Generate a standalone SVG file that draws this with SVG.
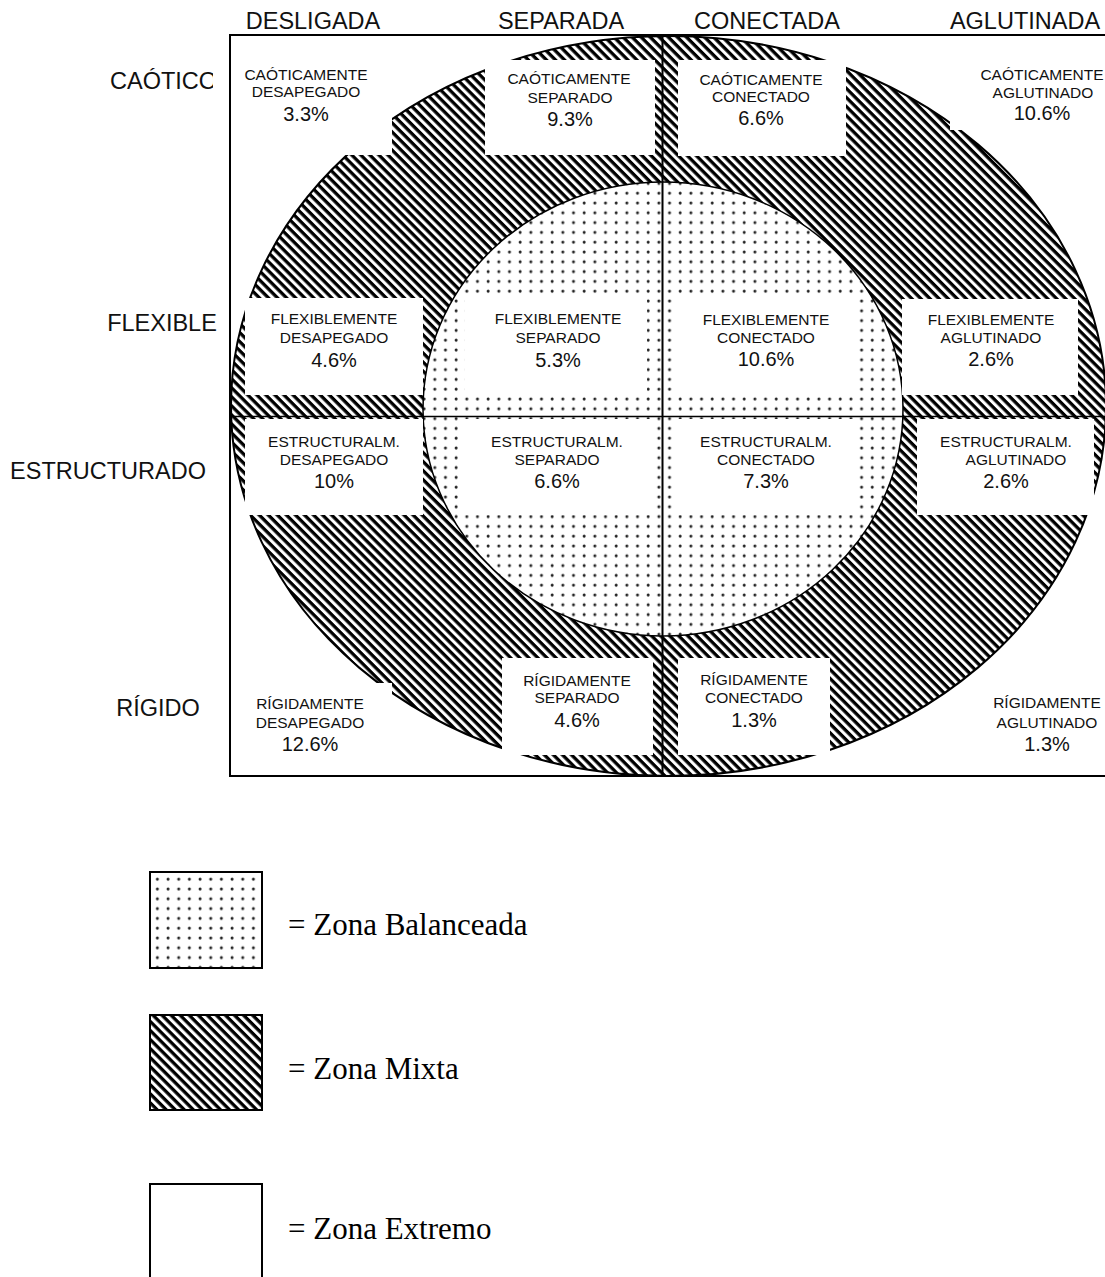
<svg xmlns="http://www.w3.org/2000/svg" width="1105" height="1277" viewBox="0 0 1105 1277">
<style>
.hd{font-family:"Liberation Sans",Arial,sans-serif;font-size:23.5px;fill:#111}
.sm{font-family:"Liberation Sans",Arial,sans-serif;font-size:15.5px;fill:#111;text-anchor:middle}
.pc{font-family:"Liberation Sans",Arial,sans-serif;font-size:20px;fill:#111;text-anchor:middle}
.lg{font-family:"Liberation Serif","Times New Roman",serif;font-size:31px;fill:#000}
.box{fill:#fff;stroke:none}
.ln{stroke:#000;fill:none}
</style>
<defs>
<pattern id="hatch" width="6.4" height="6.4" patternUnits="userSpaceOnUse" patternTransform="rotate(45)">
<rect width="6.4" height="6.4" fill="#fff"/>
<rect width="6.4" height="3.3" fill="#000"/>
</pattern>
<pattern id="dots" width="10.67" height="9.8" patternUnits="userSpaceOnUse" x="3" y="2">
<rect width="10.67" height="9.8" fill="#fff"/>
<circle cx="5" cy="5" r="1.5" fill="#222"/>
</pattern>
</defs>
<rect width="1105" height="1277" fill="#fff"/>

<g id="headers">
<text class="hd" x="313" y="28.5" text-anchor="middle">DESLIGADA</text>
<text class="hd" x="561" y="28.5" text-anchor="middle">SEPARADA</text>
<text class="hd" x="767" y="28.5" text-anchor="middle">CONECTADA</text>
<text class="hd" x="1025" y="28.5" text-anchor="middle">AGLUTINADA</text>
<text class="hd" x="110" y="89">CAÓTICO</text>
<text class="hd" x="162" y="331" text-anchor="middle">FLEXIBLE</text>
<text class="hd" x="108" y="479" text-anchor="middle">ESTRUCTURADO</text>
<text class="hd" x="158" y="716" text-anchor="middle">RÍGIDO</text>
</g>

<g id="zones">
<ellipse cx="668.5" cy="406" rx="437.5" ry="370" fill="url(#hatch)" stroke="#000" stroke-width="2"/>
<ellipse cx="663" cy="409" rx="240" ry="227" fill="url(#dots)" stroke="#000" stroke-width="1.5"/>
</g>

<g id="cell-caotico-desapegado">
<rect class="box" x="213" y="36" width="179" height="119"/>
<text class="sm" x="306" y="80">CAÓTICAMENTE</text>
<text class="sm" x="306" y="97">DESAPEGADO</text>
<text class="pc" x="306" y="121">3.3%</text>
</g>
<g id="cell-caotico-separado">
<rect class="box" x="485" y="60" width="170" height="95"/>
<text class="sm" x="569" y="84">CAÓTICAMENTE</text>
<text class="sm" x="570" y="103">SEPARADO</text>
<text class="pc" x="570" y="126">9.3%</text>
</g>
<g id="cell-caotico-conectado">
<rect class="box" x="678" y="60" width="168" height="96"/>
<text class="sm" x="761" y="85">CAÓTICAMENTE</text>
<text class="sm" x="761" y="102">CONECTADO</text>
<text class="pc" x="761" y="125">6.6%</text>
</g>
<g id="cell-caotico-aglutinado">
<rect class="box" x="950" y="36" width="160" height="94"/>
<text class="sm" x="1042" y="80">CAÓTICAMENTE</text>
<text class="sm" x="1043" y="98">AGLUTINADO</text>
<text class="pc" x="1042" y="120">10.6%</text>
</g>

<g id="cell-flexible-desapegado">
<rect class="box" x="245" y="298" width="178" height="97"/>
<text class="sm" x="334" y="324">FLEXIBLEMENTE</text>
<text class="sm" x="334" y="343">DESAPEGADO</text>
<text class="pc" x="334" y="367">4.6%</text>
</g>
<g id="cell-flexible-separado">
<rect class="box" x="465" y="297" width="182" height="98"/>
<text class="sm" x="558" y="324">FLEXIBLEMENTE</text>
<text class="sm" x="558" y="343">SEPARADO</text>
<text class="pc" x="558" y="367">5.3%</text>
</g>
<g id="cell-flexible-conectado">
<rect class="box" x="677" y="297" width="180" height="98"/>
<text class="sm" x="766" y="325">FLEXIBLEMENTE</text>
<text class="sm" x="766" y="343">CONECTADO</text>
<text class="pc" x="766" y="366">10.6%</text>
</g>
<g id="cell-flexible-aglutinado">
<rect class="box" x="902" y="299" width="176" height="96"/>
<text class="sm" x="991" y="325">FLEXIBLEMENTE</text>
<text class="sm" x="991" y="343">AGLUTINADO</text>
<text class="pc" x="991" y="366">2.6%</text>
</g>

<g id="cell-estructurado-desapegado">
<rect class="box" x="245" y="419" width="178" height="96"/>
<text class="sm" x="334" y="447">ESTRUCTURALM.</text>
<text class="sm" x="334" y="465">DESAPEGADO</text>
<text class="pc" x="334" y="488">10%</text>
</g>
<g id="cell-estructurado-separado">
<rect class="box" x="463" y="419" width="190" height="96"/>
<text class="sm" x="557" y="447">ESTRUCTURALM.</text>
<text class="sm" x="557" y="465">SEPARADO</text>
<text class="pc" x="557" y="488">6.6%</text>
</g>
<g id="cell-estructurado-conectado">
<rect class="box" x="677" y="419" width="180" height="96"/>
<text class="sm" x="766" y="447">ESTRUCTURALM.</text>
<text class="sm" x="766" y="465">CONECTADO</text>
<text class="pc" x="766" y="488">7.3%</text>
</g>
<g id="cell-estructurado-aglutinado">
<rect class="box" x="917" y="419" width="177" height="96"/>
<text class="sm" x="1006" y="447">ESTRUCTURALM.</text>
<text class="sm" x="1016" y="465">AGLUTINADO</text>
<text class="pc" x="1006" y="488">2.6%</text>
</g>

<g id="cell-rigido-desapegado">
<rect class="box" x="231" y="683" width="161" height="93"/>
<text class="sm" x="310" y="709">RÍGIDAMENTE</text>
<text class="sm" x="310" y="728">DESAPEGADO</text>
<text class="pc" x="310" y="751">12.6%</text>
</g>
<g id="cell-rigido-separado">
<rect class="box" x="502" y="658" width="151" height="97"/>
<text class="sm" x="577" y="686">RÍGIDAMENTE</text>
<text class="sm" x="577" y="703">SEPARADO</text>
<text class="pc" x="577" y="727">4.6%</text>
</g>
<g id="cell-rigido-conectado">
<rect class="box" x="678" y="658" width="152" height="97"/>
<text class="sm" x="754" y="685">RÍGIDAMENTE</text>
<text class="sm" x="754" y="703">CONECTADO</text>
<text class="pc" x="754" y="727">1.3%</text>
</g>
<g id="cell-rigido-aglutinado">
<rect class="box" x="966" y="685" width="144" height="91"/>
<text class="sm" x="1047" y="708">RÍGIDAMENTE</text>
<text class="sm" x="1047" y="728">AGLUTINADO</text>
<text class="pc" x="1047" y="751">1.3%</text>
</g>

<g id="grid">
<rect class="ln" x="230" y="35" width="890" height="741" stroke-width="2"/>
<line class="ln" x1="230" y1="416.5" x2="1105" y2="416.5" stroke-width="1.6"/>
<line class="ln" x1="662.5" y1="35" x2="662.5" y2="776" stroke-width="2"/>
</g>

<g id="legend-balanceada">
<rect x="150" y="872" width="112" height="96" fill="url(#dots)" stroke="#000" stroke-width="2"/>
<text class="lg" x="288" y="935">= Zona Balanceada</text>
</g>
<g id="legend-mixta">
<rect x="150" y="1015" width="112" height="95" fill="url(#hatch)" stroke="#000" stroke-width="2"/>
<text class="lg" x="288" y="1079">= Zona Mixta</text>
</g>
<g id="legend-extremo">
<path class="ln" d="M150,1290 V1184 H262 V1290" stroke-width="2"/>
<text class="lg" x="288" y="1239">= Zona Extremo</text>
</g>
</svg>
